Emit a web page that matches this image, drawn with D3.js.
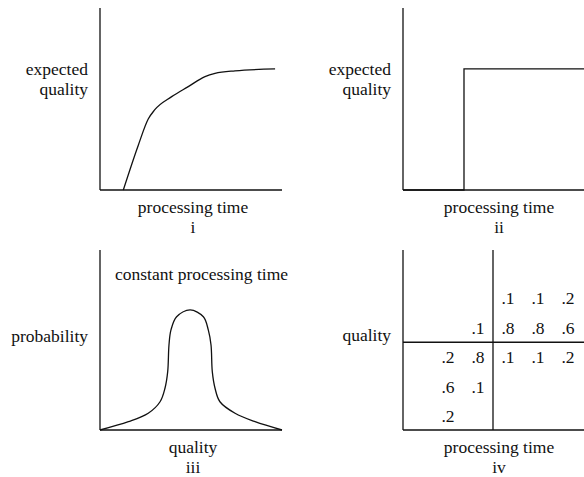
<!DOCTYPE html>
<html>
<head>
<meta charset="utf-8">
<script src="https://cdn.jsdelivr.net/npm/d3@7"></script>
<style>
  html, body { margin: 0; padding: 0; background: #fff; }
  svg { display: block; }
  text { font-family: "Liberation Serif", "Times New Roman", "DejaVu Serif", serif; font-size: 17.5px; fill: #111; }
</style>
</head>
<body>
<svg id="chart" width="584" height="477"></svg>
<script>
// ---------- DATA ----------
// Panel i: expected quality vs processing time (anytime curve)
const timeI    = [0.128, 0.21, 0.265, 0.30, 0.394, 0.485, 0.577, 0.632, 0.742, 0.962];
const qualityI = [0,     0.245, 0.39, 0.44, 0.513, 0.568, 0.623, 0.641, 0.655, 0.665];

// Panel ii: step function (all-or-nothing)
const timeII    = [0, 0.337, 1];
const qualityII = [0, 0.665, 0.665];

// Panel iii: probability of quality at constant processing time
const qualityIII = [0, 0.156, 0.265, 0.33, 0.357, 0.372, 0.379, 0.39, 0.421, 0.495, 0.568, 0.595, 0.61, 0.617, 0.632, 0.659, 0.742, 0.852, 1];
const probIII    = [0, 0.046, 0.093, 0.157, 0.232, 0.324, 0.472, 0.556, 0.629, 0.667, 0.629, 0.556, 0.472, 0.324, 0.232, 0.157, 0.093, 0.046, 0];

// Panel iv: conditional probability table, quality level (rows) by time step (columns)
const timeSteps     = [1, 2, 3, 4, 5];
const qualityLevels = [5, 4, 3, 2, 1];
const probQ5 = [null, null, 0.1, 0.1, 0.2];
const probQ4 = [null, 0.1,  0.8, 0.8, 0.6];
const probQ3 = [0.2,  0.8,  0.1, 0.1, 0.2];
const probQ2 = [0.6,  0.1,  null, null, null];
const probQ1 = [0.2,  null, null, null, null];
const timeThreshold = 2.5;
const qualityThreshold = 3.5;

// Labels
const panelNames = ["i", "ii", "iii", "iv"];

// ---------- DRAWING ----------
const svg = d3.select("#chart");
const SW = 1.3;

function panel(o) {
  const g = svg.append("g");
  const x = d3.scaleLinear().domain([0, 1]).range([o.x0, o.x1]);
  const y = d3.scaleLinear().domain([0, 1]).range([o.y0, o.y1]);
  g.append("line").attr("x1", o.x0).attr("x2", o.x0).attr("y1", o.y0).attr("y2", o.y1)
    .attr("stroke", "#111").attr("stroke-width", SW);
  g.append("line").attr("x1", o.x0).attr("x2", o.x1).attr("y1", o.y0).attr("y2", o.y0)
    .attr("stroke", "#111").attr("stroke-width", SW);
  o.ylab.forEach((t, i) => {
    g.append("text").attr("x", o.x0 - 12).attr("y", o.ylabY + i * 20)
      .attr("text-anchor", "end").text(t);
  });
  const cx = (o.x0 + o.xlabRight) / 2;
  g.append("text").attr("x", cx).attr("y", o.y0 + 23).attr("text-anchor", "middle").text(o.xlab);
  g.append("text").attr("x", cx).attr("y", o.y0 + 43).attr("text-anchor", "middle").text(o.name);
  return { g, x, y };
}

// Panel i
{
  const p = panel({ x0: 100, x1: 282, y0: 190, y1: 8, xlabRight: 286,
    ylab: ["expected", "quality"], ylabY: 75, xlab: "processing time", name: panelNames[0] });
  const pts = timeI.map((t, i) => [t, qualityI[i]]);
  p.g.append("path")
    .attr("d", d3.line().x(d => p.x(d[0])).y(d => p.y(d[1])).curve(d3.curveMonotoneX)(pts))
    .attr("fill", "none").attr("stroke", "#111").attr("stroke-width", SW);
}

// Panel ii
{
  const p = panel({ x0: 403, x1: 584, y0: 190, y1: 8, xlabRight: 595,
    ylab: ["expected", "quality"], ylabY: 75, xlab: "processing time", name: panelNames[1] });
  const pts = timeII.map((t, i) => [t, qualityII[i]]);
  p.g.append("path")
    .attr("d", d3.line().x(d => p.x(d[0])).y(d => p.y(d[1])).curve(d3.curveStepAfter)(pts))
    .attr("fill", "none").attr("stroke", "#111").attr("stroke-width", SW);
}

// Panel iii
{
  const p = panel({ x0: 100, x1: 282, y0: 430, y1: 250, xlabRight: 286,
    ylab: ["probability"], ylabY: 342, xlab: "quality", name: panelNames[2] });
  p.g.append("text").attr("x", 115).attr("y", 280).text("constant processing time");
  const pts = qualityIII.map((q, i) => [q, probIII[i]]);
  p.g.append("path")
    .attr("d", d3.line().x(d => p.x(d[0])).y(d => p.y(d[1])).curve(d3.curveCatmullRom.alpha(0.5))(pts))
    .attr("fill", "none").attr("stroke", "#111").attr("stroke-width", SW);
}

// Panel iv
{
  const p = panel({ x0: 403, x1: 584, y0: 430, y1: 250, xlabRight: 595,
    ylab: ["quality"], ylabY: 341, xlab: "processing time", name: panelNames[3] });
  const xs = d3.scaleLinear().domain([1, 5]).range([448, 568]);
  const ys = d3.scaleLinear().domain([5, 1]).range([298, 416]);
  p.g.append("line").attr("x1", xs(timeThreshold)).attr("x2", xs(timeThreshold))
    .attr("y1", 430).attr("y2", 250).attr("stroke", "#111").attr("stroke-width", SW);
  p.g.append("line").attr("x1", 403).attr("x2", 584)
    .attr("y1", ys(qualityThreshold)).attr("y2", ys(qualityThreshold))
    .attr("stroke", "#111").attr("stroke-width", SW);
  const rows = [probQ5, probQ4, probQ3, probQ2, probQ1];
  const cells = [];
  rows.forEach((r, ri) => r.forEach((v, ci) => {
    if (v !== null) cells.push({ q: qualityLevels[ri], t: timeSteps[ci], v });
  }));
  const fmt = v => d3.format(".1f")(v).replace(/^0/, "");
  p.g.selectAll("text.cell").data(cells).join("text").attr("class", "cell")
    .attr("x", d => xs(d.t)).attr("y", d => ys(d.q)).attr("dy", "0.35em")
    .attr("text-anchor", "middle").text(d => fmt(d.v));
}
</script>
</body>
</html>
